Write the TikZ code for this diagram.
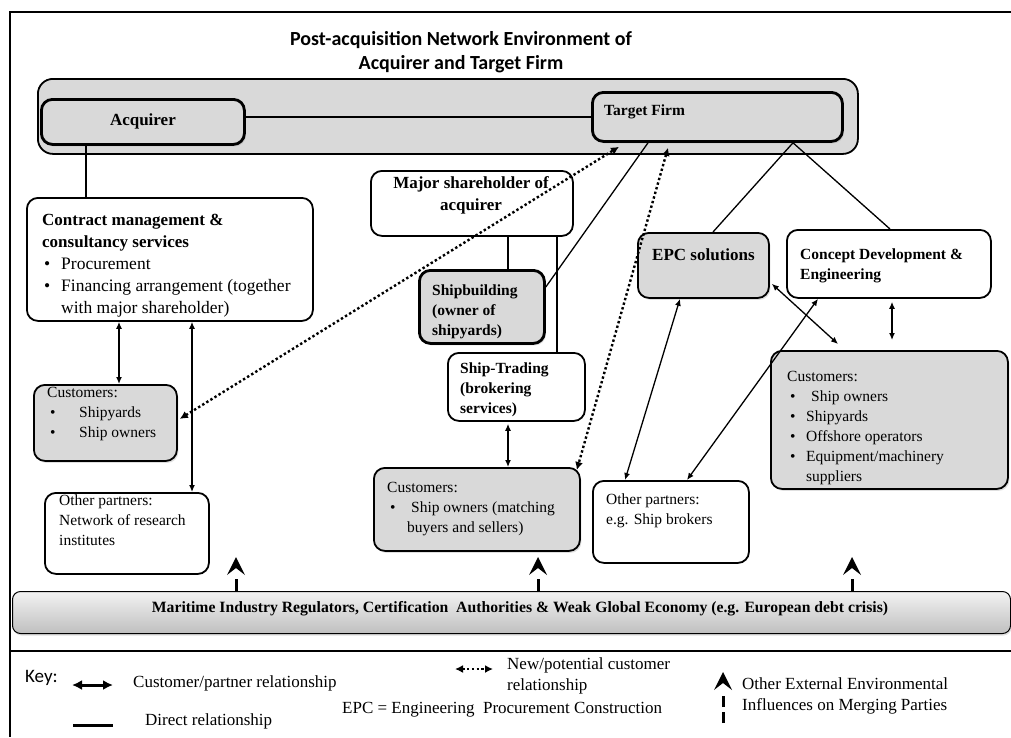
\documentclass[tikz,border=0pt]{standalone}
\usepackage{fontspec}
\setmainfont{Liberation Serif}
\newfontfamily\carlito{Carlito}
\usetikzlibrary{arrows.meta,calc,shadows}

% text sizes
\newcommand\bodyf{\fontsize{15.5}{20}\selectfont}
\newcommand\headf{\fontsize{17}{22}\selectfont\bfseries}
\newcommand\subhf{\fontsize{15.5}{20}\selectfont\bfseries}
\newcommand\keyf{\fontsize{17}{21}\selectfont}
% bullet followed by an item, bullet set in a box of given width
\newcommand\bitem[2]{\makebox[#1][l]{\textbullet}#2}

\begin{document}
\begin{tikzpicture}[x=1pt,y=-1pt,
  box/.style={draw, line width=1.8pt, rounded corners=11pt, inner sep=0pt, anchor=north west},
  gbox/.style={box, fill=black!15, drop shadow={opacity=0.25, shadow xshift=1.5pt, shadow yshift=-2pt}},
  heavybox/.style={gbox, line width=2.8pt},
  txt/.style={anchor=north west, inner sep=0pt, align=left, font=\bodyf},
  rel/.style={line width=1.3pt},
  duo/.style={rel, {Latex[length=7pt,width=6pt]}-{Latex[length=7pt,width=6pt]}},
  potential/.style={line width=2.4pt, dash pattern=on 2.4pt off 2.4pt,
    {Latex[length=8pt,width=8pt]}-{Latex[length=8pt,width=8pt]}},
  extshaft/.style={line width=3pt},
  exthead/.pic={\fill (0,0) -- (-9,18) -- (0,11) -- (9,18) -- cycle;}]

\useasboundingbox (0,0) rectangle (1011,737);
\fill[white] (0,0) rectangle (1011,737);

% frame
\draw[line width=2pt] (1011,12) -- (10,12) -- (10,737);
\draw[line width=2pt] (10,651) -- (1011,651);

% title
\node[font=\carlito\fontsize{20}{24}\selectfont\bfseries, align=center] (title) at (461,52)
  {Post-acquisition Network Environment of\\Acquirer and Target Firm};

% merged firms
\node[box, fill=black!15, rounded corners=15pt, minimum width=820pt, minimum height=75pt] (env) at (37,78) {};
\node[heavybox, minimum width=203pt, minimum height=45pt] (acq) at (40,98) {};
\node[font=\headf] (acqT) at (acq.center) {Acquirer};
\node[heavybox, minimum width=250pt, minimum height=49pt] (target) at (591,91) {};
\node[anchor=west, inner sep=0pt, font=\subhf] (targetT) at ($(target.west)+(13,-5.5)$) {Target Firm};

% left branch
\node[box, minimum width=286pt, minimum height=123pt] (contract) at (26,197) {};
\node[txt, font=\fontsize{17.5}{22}\selectfont] (contractT) at (42,214)
  {{\headf Contract management \&}\\{\headf consultancy services}\\
   \hspace*{2pt}\bitem{17pt}{Procurement}\\
   \hspace*{2pt}\bitem{17pt}{Financing arrangement (together}\\
   \hspace*{19pt}with major shareholder)};
\node[gbox, minimum width=143pt, minimum height=76pt] (custL) at (33,384) {};
\node[txt] (custLT) at (47,387)
  {Customers:\\ \hspace*{3pt}\bitem{29pt}{Shipyards}\\ \hspace*{3pt}\bitem{29pt}{Ship owners}};
\node[box, minimum width=164pt, minimum height=81pt] (othL) at (44,492) {};
\node[txt] (othLT) at (59,495) {Other partners:\\Network of research\\institutes};

% middle branch
\node[box, minimum width=202pt, minimum height=65pt] (majsh) at (370,170) {};
\node[anchor=north, inner sep=0pt, align=center, font=\headf] (majshT) at (471,176)
  {Major shareholder of\\acquirer};
\node[heavybox, minimum width=125pt, minimum height=73pt] (shipb) at (418,269) {};
\node[txt, font=\subhf] (shipbT) at (432,285) {Shipbuilding\\(owner of\\shipyards)};
\node[box, minimum width=137pt, minimum height=68pt] (shipt) at (447,352) {};
\node[txt, font=\subhf] (shiptT) at (460,363) {Ship-Trading\\(brokering\\services)};
\node[gbox, minimum width=206pt, minimum height=83pt] (custM) at (373,467) {};
\node[txt] (custMT) at (387,482)
  {Customers:\\ \hspace*{3pt}\bitem{21pt}{Ship owners (matching}\\ \hspace*{20pt}buyers and sellers)};

% right branch
\node[gbox, minimum width=131pt, minimum height=65pt] (epc) at (637,232) {};
\node[txt, font=\headf] (epcT) at (652,248) {EPC solutions};
\node[box, minimum width=204pt, minimum height=68pt] (concept) at (786,229) {};
\node[txt, font=\subhf] (conceptT) at (800,249) {Concept Development \&\\Engineering};
\node[gbox, minimum width=237pt, minimum height=138pt] (custR) at (770,350) {};
\node[txt] (custRT) at (787,371)
  {Customers:\\ \hspace*{3pt}\bitem{21pt}{Ship owners}\\ \hspace*{3pt}\bitem{16pt}{Shipyards}\\
   \hspace*{3pt}\bitem{16pt}{Offshore operators}\\ \hspace*{3pt}\bitem{16pt}{Equipment/machinery}\\
   \hspace*{19pt}suppliers};
\node[box, minimum width=156pt, minimum height=82pt] (othR) at (592,480) {};
\node[txt] (othRT) at (606,494) {Other partners:\\e.g. Ship brokers};

% environment bar
\node[box, rounded corners=8pt, line width=1pt, top color=black!5, bottom color=black!25,
  drop shadow={opacity=0.25, shadow xshift=1pt, shadow yshift=-2pt},
  minimum width=998pt, minimum height=42pt] (bar) at (12,591) {};
\node[font=\fontsize{15.7}{18}\selectfont\bfseries] (barT) at (520,609)
  {Maritime Industry Regulators, Certification\ \ Authorities \& Weak Global Economy (e.g. European debt crisis)};

% direct relationships
\draw[rel] ($(acq.north east)+(0,19)$) -- ($(target.north west)+(0,26)$);
\draw[rel] ($(acq.south west)+(46,0)$) -- ($(contract.north west)+(60,0)$);
\draw[rel] ($(majsh.south west)+(138,0)$) -- ($(shipb.north west)+(90,0)$);
\draw[rel] ($(majsh.south west)+(187,0)$) -- ($(shipt.north west)+(110,0)$);
\draw[rel] ($(shipb.north east)+(0,18)$) -- ($(target.south west)+(57,0)$);
\draw[rel] ($(target.south west)+(202,0)$) -- ($(epc.north west)+(76,0)$);
\draw[rel] ($(target.south west)+(202,0)$) -- ($(concept.north west)+(104,0)$);

% customer / partner relationships
\draw[duo] ($(contract.south west)+(93,0)$) -- ($(custL.north west)+(86,0)$);
\draw[duo] ($(contract.south west)+(166,0)$) -- ($(othL.north west)+(148,0)$);
\draw[duo] ($(shipt.south west)+(61,2)$) -- ($(custM.north west)+(135,0)$);
\draw[duo] ($(epc.south west)+(43,0)$) -- ($(othR.north west)+(33,0)$);
\draw[duo] ($(epc.south east)+(2,-15)$) -- ($(custR.north west)+(68,-6)$);
\draw[duo] ($(concept.south west)+(32,0)$) -- ($(othR.north west)+(95,0)$);
\draw[duo] ($(concept.south west)+(106,3)$) -- ($(custR.north west)+(122,-10)$);

% new / potential customer relationships
\draw[potential] ($(custL.east)+(2,-4)$) -- ($(target.south west)+(28,4)$);
\draw[potential] ($(target.south west)+(77,5)$) -- ($(custM.north east)+(-4,3)$);

% external influences
\coordinate (ext1) at (236,557);
\coordinate (ext2) at (538,557);
\coordinate (ext3) at (852,557);
\foreach \e in {ext1,ext2,ext3}{
  \draw[extshaft] (bar.north -| \e) -- ($(\e)+(0,22)$);
  \pic at (\e) {exthead};
}

% key
\node[anchor=west, inner sep=0pt, font=\carlito\fontsize{19}{22}\selectfont] (keyT) at (25,678) {Key:};
\coordinate (k1a) at (72,685);
\coordinate (k1b) at (113,685);
\draw[line width=3pt, {Latex[length=10pt,width=10pt]}-{Latex[length=10pt,width=10pt]}] (k1a) -- (k1b);
\node[anchor=west, inner sep=0pt, font=\keyf] (k1T) at (133,683) {Customer/partner relationship};
\coordinate (k2a) at (73,725);
\coordinate (k2b) at (113,725);
\draw[line width=3pt] (k2a) -- (k2b);
\node[anchor=west, inner sep=0pt, font=\keyf] (k2T) at (145,721) {Direct relationship};
\coordinate (k3a) at (455,669);
\coordinate (k3b) at (493,669);
\draw[potential, line width=2.4pt] (k3a) -- (k3b);
\node[txt, font=\keyf] (k3T) at (507,657) {New/potential customer\\relationship};
\node[anchor=west, inner sep=0pt, font=\keyf] (epcKey) at (342,710) {EPC = Engineering\ \ Procurement Construction};
\coordinate (k4a) at (723,723);
\coordinate (k4b) at (723,672);
\draw[extshaft, dash pattern=on 11pt off 5pt] (k4a) -- ($(k4b)+(0,22)$);
\pic at (k4b) {exthead};
\node[txt, font=\keyf] (k4T) at (742,677) {Other External Environmental\\Influences on Merging Parties};
\end{tikzpicture}
\end{document}
